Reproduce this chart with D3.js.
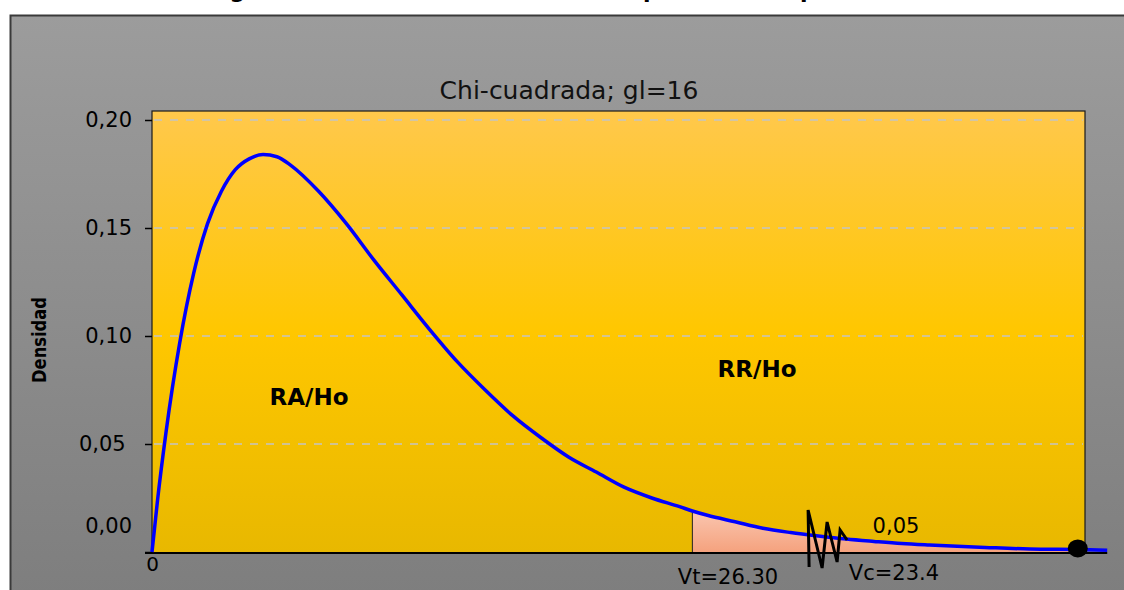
<!DOCTYPE html>
<html>
<head>
<meta charset="utf-8">
<script src="https://cdn.jsdelivr.net/npm/d3@7"></script>
<style>
  body { margin: 0; background: #fff; }
  svg { display: block; font-family: "DejaVu Sans", Verdana, sans-serif; }
</style>
</head>
<body>
<svg id="chart" width="1124" height="590"></svg>
<script>
// density curve (x in units, y = density)
const densX = [0, 0.05, 0.1, 0.25, 0.5, 0.75, 1, 1.25, 1.5, 1.75, 2, 2.25, 2.5, 3, 3.5, 4, 4.5, 5, 5.5, 6,
    6.5, 7, 7.5, 8, 8.5, 9, 9.5, 9.73, 10, 10.5, 11, 11.5, 12, 12.5, 13, 13.5, 14, 15, 16, 16.67, 17.2];
const densY = [0, 0.012, 0.024, 0.055, 0.097, 0.129, 0.152, 0.167, 0.177, 0.182, 0.184, 0.183, 0.179, 0.167, 0.152, 0.135, 0.119, 0.103, 0.088, 0.075,
    0.063, 0.053, 0.044, 0.037, 0.030, 0.025, 0.021, 0.019, 0.017, 0.014, 0.011, 0.009, 0.0074, 0.006, 0.0049, 0.0039, 0.0032, 0.0021, 0.0013, 0.0012, 0.0008];

const yTicks = [0, 0.05, 0.10, 0.15, 0.20];
const xTicks = [0];

// rejection region limits and markers
const vtValue = 9.73;
const endValue = 16.67;
const zigValue = 11.85;

const svg = d3.select("#chart");
const defs = svg.append("defs");

const bgGrad = defs.append("linearGradient").attr("id", "bg").attr("x1", 0).attr("y1", 0).attr("x2", 0).attr("y2", 1);
bgGrad.append("stop").attr("offset", "0%").attr("stop-color", "#9c9c9c");
bgGrad.append("stop").attr("offset", "100%").attr("stop-color", "#7e7e7e");

const plotGrad = defs.append("linearGradient").attr("id", "plotbg").attr("x1", 0).attr("y1", 0).attr("x2", 0).attr("y2", 1);
plotGrad.append("stop").attr("offset", "0%").attr("stop-color", "#ffc84c");
plotGrad.append("stop").attr("offset", "50%").attr("stop-color", "#ffc700");
plotGrad.append("stop").attr("offset", "100%").attr("stop-color", "#e8b800");

const pinkGrad = defs.append("linearGradient").attr("id", "pink").attr("x1", 0).attr("y1", 0).attr("x2", 0).attr("y2", 1);
pinkGrad.append("stop").attr("offset", "0%").attr("stop-color", "#fac6b0");
pinkGrad.append("stop").attr("offset", "100%").attr("stop-color", "#f5a27e");

// outer chart area
svg.append("rect").attr("x", 10).attr("y", 15).attr("width", 1120).attr("height", 580)
    .attr("fill", "url(#bg)");
svg.append("path").attr("d", "M10.5,595 V15.5 H1124")
    .attr("fill", "none").attr("stroke", "#3a3a3a").attr("stroke-width", 2);

// page title above the chart, mostly outside the window as in the picture
const pageTitle = svg.append("text").attr("y", -2)
    .attr("font-size", 22).attr("font-weight", "bold");
pageTitle.append("tspan").attr("x", 207).text("Figura 5. Distribución de la ");
pageTitle.append("tspan").attr("x", 643).text("prueba de hipótesis");

const plot = { left: 152, right: 1085, top: 111, bottom: 553 };

const x = d3.scaleLinear().domain([0, 16.8]).range([plot.left, plot.right]);
const y = d3.scaleLinear().domain([0, 0.2]).range([552, 120]);

svg.append("rect").attr("x", plot.left).attr("y", plot.top)
    .attr("width", plot.right - plot.left).attr("height", plot.bottom - plot.top)
    .attr("fill", "url(#plotbg)").attr("stroke", "#1a1a1a").attr("stroke-width", 1.2);

// dashed gridlines
svg.append("g").selectAll("line").data(yTicks.filter(d => d > 0)).enter().append("line")
    .attr("x1", plot.left + 2).attr("x2", plot.right - 2)
    .attr("y1", d => y(d)).attr("y2", d => y(d))
    .attr("stroke", "#c4c4c4").attr("stroke-width", 1.5).attr("stroke-dasharray", "8,8");

const pts = densX.map((v, i) => [v, densY[i]]);

// shaded rejection region
const area = d3.area().x(d => x(d[0])).y0(y(0)).y1(d => y(d[1])).curve(d3.curveMonotoneX);
svg.append("path")
    .datum(pts.filter(d => d[0] >= vtValue && d[0] <= endValue))
    .attr("d", area).attr("fill", "url(#pink)");

// critical value line
const vtIdx = densX.indexOf(vtValue);
svg.append("line").attr("x1", x(vtValue)).attr("x2", x(vtValue))
    .attr("y1", y(densY[vtIdx])).attr("y2", y(0))
    .attr("stroke", "#222").attr("stroke-width", 1);

// y axis
const yAxis = d3.axisLeft(y).tickValues(yTicks).tickSize(7).tickPadding(13)
    .tickFormat(d => d.toFixed(2).replace(".", ","));
const yg = svg.append("g").attr("transform", `translate(${plot.left},0)`).call(yAxis);
yg.select(".domain").remove();
yg.selectAll("line").attr("stroke", "#000").attr("stroke-width", 1.5);
yg.selectAll("text").attr("font-size", 21).attr("fill", "#000")
    .attr("font-family", "DejaVu Sans, sans-serif");
yg.selectAll(".tick").filter(d => d === 0).select("text").attr("dy", "-0.95em");
yg.selectAll(".tick").filter(d => d === 0.05).select("text").attr("dx", "-0.3em");

// x axis
const xAxis = d3.axisBottom(x).tickValues(xTicks).tickSize(0).tickPadding(4).tickFormat(d => d);
const xg = svg.append("g").attr("transform", `translate(0,${plot.bottom})`).call(xAxis);
xg.select(".domain").remove();
xg.selectAll("text").attr("font-size", 20).attr("fill", "#000")
    .attr("font-family", "DejaVu Sans, sans-serif");
svg.append("line").attr("x1", plot.left - 7).attr("x2", x(17.2))
    .attr("y1", plot.bottom).attr("y2", plot.bottom)
    .attr("stroke", "#000").attr("stroke-width", 2);

// density curve
const line = d3.line().x(d => x(d[0])).y(d => y(d[1])).curve(d3.curveMonotoneX);
svg.append("path").datum(pts).attr("d", line)
    .attr("fill", "none").attr("stroke", "#0000ff").attr("stroke-width", 3.5);

// end marker
const endIdx = densX.indexOf(endValue);
svg.append("ellipse").attr("cx", x(endValue)).attr("cy", y(densY[endIdx]) - 1)
    .attr("rx", 10).attr("ry", 9).attr("fill", "#000");

// zigzag marker
const zx = x(zigValue);
const zig = [[-1, 14], [-2, -43], [12, 15], [17, -31], [27, 9], [30, -23], [37, -13]];
svg.append("path")
    .attr("d", d3.line()(zig.map(p => [zx + p[0], plot.bottom + p[1]])))
    .attr("fill", "none").attr("stroke", "#000").attr("stroke-width", 3)
    .attr("stroke-linejoin", "miter");

// titles and labels
svg.append("text").attr("x", 569).attr("y", 99).attr("text-anchor", "middle")
    .attr("font-size", 25).attr("fill", "#111").text("Chi-cuadrada; gl=16");

svg.append("text").attr("transform", "translate(46,340) rotate(-90)")
    .attr("text-anchor", "middle").attr("font-size", 20).attr("font-weight", "bold")
    .attr("textLength", 86).attr("lengthAdjust", "spacingAndGlyphs")
    .text("Densidad");

svg.append("text").attr("x", 309).attr("y", 405).attr("text-anchor", "middle")
    .attr("font-size", 23).attr("font-weight", "bold").text("RA/Ho");
svg.append("text").attr("x", 757).attr("y", 377).attr("text-anchor", "middle")
    .attr("font-size", 23).attr("font-weight", "bold").text("RR/Ho");

svg.append("text").attr("x", 896).attr("y", 533).attr("text-anchor", "middle")
    .attr("font-size", 21).text("0,05");
svg.append("text").attr("x", 728).attr("y", 584).attr("text-anchor", "middle")
    .attr("font-size", 21).text("Vt=26.30");
svg.append("text").attr("x", 894).attr("y", 580).attr("text-anchor", "middle")
    .attr("font-size", 21).text("Vc=23.4");
</script>
</body>
</html>
